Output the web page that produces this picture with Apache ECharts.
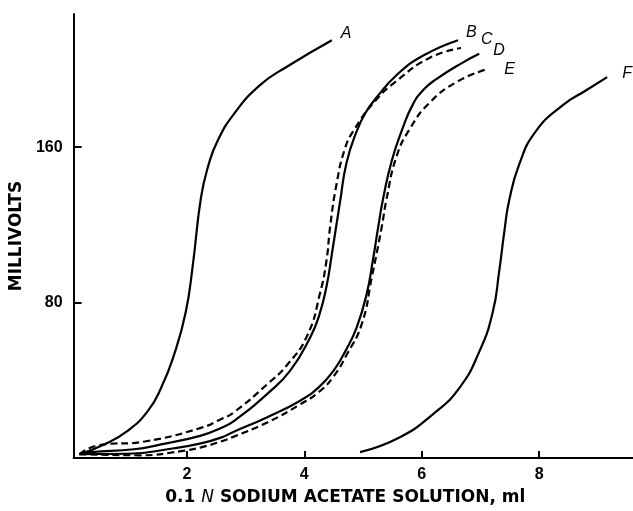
<!DOCTYPE html>
<html>
<head>
    <meta charset="utf-8">
    <title>Sodium acetate titration</title>
    <script src="https://cdn.jsdelivr.net/npm/echarts@6/dist/echarts.min.js"></script>
    <style>
        html, body { margin: 0; padding: 0; background: #fff; }
        #chart { width: 633px; height: 511px; }
    </style>
</head>
<body>
<div id="chart"></div>

<script type="text/javascript">
    // curves: [ml, mV]
    var curveA = [[0.17, 2], [0.59, 7], [0.99, 14], [1.33, 24], [1.56, 36], [1.78, 53], [1.98, 75], [2.10, 99],
        [2.24, 134], [2.37, 151], [2.52, 163], [2.80, 177], [3.25, 192], [3.71, 201.5], [4.47, 215]];
    var curveB = [[0.17, 2], [0.37, 3], [1.1, 4.5], [1.56, 7], [2.24, 11.5], [2.58, 15.5], [2.80, 19], [3.37, 33],
        [3.76, 45], [4.10, 62], [4.25, 73], [4.38, 88.5], [4.47, 105], [4.61, 132], [4.72, 152], [4.89, 168],
        [5.05, 178], [5.23, 185.5], [5.57, 197], [6.02, 207], [6.62, 215]];
    var curveC = [[0.17, 2], [0.49, 6.5], [1.28, 8.5], [2.24, 15.5], [2.58, 20], [2.80, 23.5], [3.37, 38], [3.71, 48],
        [4.05, 63], [4.27, 85], [4.38, 102], [4.44, 119], [4.55, 141], [4.69, 159], [4.84, 168.5], [5.2, 183.5],
        [5.57, 194], [6.14, 206], [6.67, 211]];
    var curveD = [[0.17, 2], [0.99, 2.2], [1.78, 5], [2.24, 7.5], [2.58, 10.5], [2.80, 13.5], [3.37, 21], [3.93, 29.5],
        [4.25, 36.5], [4.50, 45], [4.70, 55], [4.89, 67], [5.06, 84], [5.17, 102], [5.26, 119], [5.34, 133],
        [5.49, 153], [5.68, 170], [5.85, 182], [6.03, 189.5], [6.25, 195], [6.70, 203.5], [6.98, 208]];
    var curveE = [[0.17, 2], [1.2, 1.4], [1.9, 3.5], [2.24, 5.5], [2.58, 8.5], [2.80, 11], [3.37, 18.3], [3.93, 27.6],
        [4.25, 34], [4.50, 42], [4.72, 53], [4.98, 69], [5.15, 93], [5.32, 119], [5.40, 133], [5.57, 155],
        [5.80, 169.5], [6.14, 183], [6.59, 193.4], [7.10, 200]];
    var curveF = [[4.95, 3], [5.63, 10.7], [6.19, 22.5], [6.64, 36], [6.98, 54.6], [7.21, 75], [7.32, 96],
        [7.41, 117], [7.49, 132.5], [7.66, 151], [7.94, 168], [8.40, 181.5], [8.79, 189], [9.16, 196]];

    var curveNames = ['A', 'B', 'C', 'D', 'E', 'F'];
    var curveData = [curveA, curveB, curveC, curveD, curveE, curveF];
    var dashedCurves = ['C', 'E'];

    var xTicks = [2, 4, 6, 8];
    var yTicks = [80, 160];

    // where each letter sits relative to the end of its curve
    var labelOffset = {A: [1, -7], B: [0, -8], C: [12, -8], D: [6, -3], E: [10, 0], F: [7, -4]};

    var myChart = echarts.init(document.getElementById('chart'));

    var series = curveNames.map(function (name, i) {
        return {
            name: name,
            type: 'line',
            data: curveData[i],
            smooth: 0.5,
            showSymbol: false,
            silent: true,
            lineStyle: {
                color: '#000',
                width: 2.2,
                type: dashedCurves.indexOf(name) >= 0 ? [7, 4] : 'solid'
            },
            endLabel: {
                show: true,
                formatter: '{a}',
                offset: labelOffset[name],
                color: '#000',
                fontSize: 16,
                fontStyle: 'italic',
                fontFamily: 'Liberation Sans'
            }
        };
    });

    myChart.setOption({
        backgroundColor: '#fff',
        animation: false,
        grid: {left: 72, right: 0, top: 14, bottom: 46},
        xAxis: {
            type: 'value',
            min: 0.07,
            max: 9.6,
            name: '0.1 {i|N} SODIUM ACETATE SOLUTION, ml',
            nameLocation: 'middle',
            nameGap: 31,
            nameTextStyle: {
                color: '#000',
                fontSize: 17,
                fontWeight: 'bold',
                fontFamily: 'DejaVu Sans',
                padding: [0, 16, 0, 0],
                rich: {
                    i: {fontStyle: 'italic', fontWeight: 'normal', fontSize: 17, fontFamily: 'DejaVu Sans', color: '#000'}
                }
            },
            axisLine: {lineStyle: {color: '#000', width: 2}},
            axisTick: {inside: true, length: 7, customValues: xTicks, lineStyle: {color: '#000', width: 2}},
            axisLabel: {
                customValues: xTicks, color: '#000', fontSize: 16, fontWeight: 'bold',
                margin: 9, fontFamily: 'Liberation Sans'
            },
            splitLine: {show: false}
        },
        yAxis: {
            type: 'value',
            min: 0,
            max: 228.5,
            name: 'MILLIVOLTS',
            nameLocation: 'middle',
            nameRotate: 90,
            nameGap: 39,
            nameTextStyle: {color: '#000', fontSize: 17, fontWeight: 'bold', fontFamily: 'DejaVu Sans'},
            axisLine: {lineStyle: {color: '#000', width: 2}},
            axisTick: {inside: true, length: 8, customValues: yTicks, lineStyle: {color: '#000', width: 2}},
            axisLabel: {
                customValues: yTicks, color: '#000', fontSize: 16, fontWeight: 'bold',
                margin: 11, fontFamily: 'Liberation Sans'
            },
            splitLine: {show: false}
        },
        series: series
    });
</script>
</body>
</html>
